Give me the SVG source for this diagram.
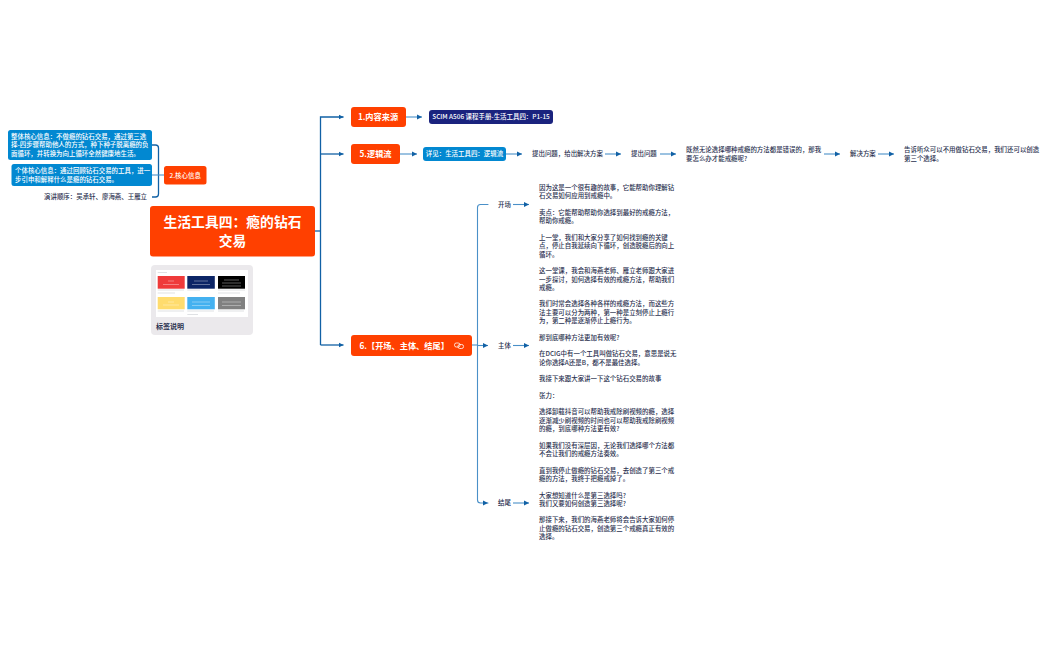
<svg xmlns="http://www.w3.org/2000/svg" width="1050" height="650" viewBox="0 0 1050 650">
<style>
text{font-family:"Noto Sans CJK SC",sans-serif}
.t{font-size:6.45px;fill:#2b3150;font-weight:500}
.w{font-size:6.45px;fill:#fff;font-weight:500}
.h{font-size:8.2px;fill:#fff;font-weight:700}
.m{text-anchor:middle}
.o{fill:#ff4000}
.b{fill:#0288d1}
.c1{fill:none;stroke:#1161a5;stroke-width:1.3}
.c2{fill:none;stroke:#4a90c8;stroke-width:1.1}
.i{fill:none;stroke:#c9ccd2;stroke-width:.6}
.l{fill:none;stroke:#fff;stroke-opacity:.6;stroke-width:.6}
</style>
<defs>
<marker id="a" markerUnits="userSpaceOnUse" markerWidth="6" markerHeight="6" refX="5" refY="3" orient="auto"><path d="M0 .5L5 3L0 5.500Z" fill="#1161a5"/></marker>
</defs>
<g id="connectors">
<path class="c1" d="M315 231H320.500"/>
<path class="c1" marker-end="url(#a)" d="M320.500 345V117H343.500"/>
<path class="c1" marker-end="url(#a)" d="M320.500 154H343.500"/>
<path class="c1" marker-end="url(#a)" d="M320.500 345H343.500"/>
<path class="c2" marker-end="url(#a)" d="M406 117H422"/>
<path class="c2" marker-end="url(#a)" d="M400 154H417"/>
<path class="c2" marker-end="url(#a)" d="M506 154H522"/>
<path class="c2" marker-end="url(#a)" d="M605 154H621"/>
<path class="c2" marker-end="url(#a)" d="M660 154H676"/>
<path class="c2" marker-end="url(#a)" d="M824 154H840"/>
<path class="c2" marker-end="url(#a)" d="M878 154H894"/>
<path class="c1" d="M152 145H155.500Q158.500 145 158.500 148V194Q158.500 197 155.500 197H152"/>
<path class="c2" d="M152 175H164"/>
<path class="c2" d="M472 345H477.500"/>
<path class="c2" stroke-linecap="round" marker-end="url(#a)" d="M488 204.500H480.500Q477.500 204.500 477.500 207.500V500Q477.500 503 480.500 503H488"/>
<path class="c2" marker-end="url(#a)" d="M477.500 345.500H488"/>
<path class="c2" marker-end="url(#a)" d="M513 204.500H529"/>
<path class="c2" marker-end="url(#a)" d="M513 345.500H529"/>
<path class="c2" marker-end="url(#a)" d="M513 503H529"/>
</g>
<g id="root">
<rect class="o" x="150" y="206" width="165" height="50.500" rx="3"/>
<text class="m" x="232.500" y="227" fill="#fff" font-size="13.800" font-weight="700">生活工具四：瘾的钻石</text>
<text class="m" x="232.500" y="245.500" fill="#fff" font-size="13.800" font-weight="700">交易</text>
</g>
<g id="legend">
<rect x="151" y="265" width="102" height="70" rx="4" fill="#ebe9ec"/>
<rect x="156" y="270" width="92" height="47" fill="#fff"/>
<rect x="157.700" y="276" width="27" height="12.700" fill="#ef3a3a"/>
<rect x="187.300" y="276" width="27.500" height="12.700" fill="#0c2566"/>
<rect x="218" y="276" width="27" height="12.700" fill="#000"/>
<rect x="157.700" y="297" width="27" height="12.300" fill="#ffdc6e"/>
<rect x="187.300" y="297" width="27.500" height="12.300" fill="#44b1f0"/>
<rect x="218" y="297" width="27" height="12.300" fill="#808080"/>
<path class="l" d="M168 281H174M163 284.500H179M194 281H208M192 284.500H210M224 280H239M222 283H241M222 286H241M168 302H174M163 305H179M192 302H210M192 305.500H210M222 302H241M222 305.500H241"/>
<path class="i" d="M157.700 272.500H167M157.700 290H184M157.700 293H175M187.300 290H200M218 290H245M218 293H240M157.700 311H184M187.300 311H214M187.300 314.500H198M218 311H244"/>
<text x="156" y="328.500" font-size="7" font-weight="700" fill="#2b3150">标签说明</text>
</g>
<g id="node-core">
<rect class="o" x="164" y="166" width="42.500" height="18.500" rx="2.500"/>
<text class="w" x="185.200" y="177.500" text-anchor="middle" font-weight="700">2.核心信息</text>
</g>
<g id="core-overall">
<rect class="b" x="8" y="130" width="144" height="30" rx="2.500"/>
<text class="w" x="11" y="138.800">整体核心信息：不做瘾的钻石交易，通过第三选</text>
<text class="w" x="11" y="147.200">择-四步骤帮助他人的方式，种下种子脱离瘾的负</text>
<text class="w" x="11" y="155.600">面循环，并转换为向上循环全然健康地生活。</text>
</g>
<g id="core-individual">
<rect class="b" x="11.500" y="164" width="140.500" height="22" rx="2.500"/>
<text class="w" x="15" y="173.200">个体核心信息：通过回顾钻石交易的工具，进一</text>
<text class="w" x="15" y="181.600">步引申和解释什么是瘾的钻石交易。</text>
</g>
<g id="core-order"><text class="t" x="44" y="199">演讲顺序：吴承轩、廖海燕、王雁立</text></g>
<g id="node-source">
<rect class="o" x="351" y="107" width="55" height="20" rx="3"/>
<text class="h m" x="378" y="120">1.内容来源</text>
</g>
<g id="source-detail">
<rect x="429" y="110" width="124" height="14" rx="3" fill="#1a237e"/>
<text class="w" x="491" y="119.300" text-anchor="middle">SCIM A506 课程手册-生活工具四：P1-15</text>
</g>
<g id="node-logic">
<rect class="o" x="351" y="144" width="49" height="20" rx="3"/>
<text class="h m" x="375.500" y="157">5.逻辑流</text>
</g>
<g id="logic-detail">
<rect class="b" x="423" y="147" width="83" height="14" rx="3"/>
<text class="w" x="464.500" y="156.300" text-anchor="middle">详见：生活工具四：逻辑流</text>
</g>
<g id="logic-1"><text class="t" x="532" y="156.300">提出问题，给出解决方案</text></g>
<g id="logic-2"><text class="t" x="631" y="156.300">提出问题</text></g>
<g id="logic-3">
<text class="t" x="686" y="152">既然无论选择哪种戒瘾的方法都是错误的，那我</text>
<text class="t" x="686" y="160.500">要怎么办才能戒瘾呢?</text>
</g>
<g id="logic-4"><text class="t" x="850" y="156.300">解决方案</text></g>
<g id="logic-5">
<text class="t" x="904" y="152">告诉听众可以不用做钻石交易，我们还可以创造</text>
<text class="t" x="904" y="160.500">第三个选择。</text>
</g>
<g id="node-structure">
<rect class="o" x="351" y="335" width="121" height="21" rx="3"/>
<text class="h" x="359.500" y="348.500">6.【开场、主体、结尾】</text>
<g fill="none" stroke="#fff" stroke-width=".8"><rect x="454.500" y="343" width="5.500" height="4" rx="1.800"/><rect x="458" y="344.500" width="5.500" height="4" rx="1.800"/></g>
</g>
<g id="section-open"><text class="t" x="498" y="207">开场</text></g>
<g id="section-body"><text class="t" x="498" y="347.800">主体</text></g>
<g id="section-end"><text class="t" x="498" y="505.300">结尾</text></g>
<g id="script">
<text class="t" x="539" y="190">因为这是一个很有趣的故事，它能帮助你理解钻</text>
<text class="t" x="539" y="198.300">石交易如何应用到戒瘾中。</text>
<text class="t" x="539" y="215">卖点：它能帮助帮助你选择到最好的戒瘾方法，</text>
<text class="t" x="539" y="223.300">帮助你戒瘾。</text>
<text class="t" x="539" y="240">上一堂，我们和大家分享了如何找到瘾的关键</text>
<text class="t" x="539" y="248.300">点，停止自我延续向下循环，创造脱瘾后的向上</text>
<text class="t" x="539" y="256.600">循环。</text>
<text class="t" x="539" y="273.200">这一堂课，我会和海燕老师、雁立老师跟大家进</text>
<text class="t" x="539" y="281.500">一步探讨，如何选择有效的戒瘾方法，帮助我们</text>
<text class="t" x="539" y="289.800">戒瘾。</text>
<text class="t" x="539" y="306.400">我们时常会选择各种各样的戒瘾方法，而这些方</text>
<text class="t" x="539" y="314.700">法主要可以分为两种，第一种是立刻停止上瘾行</text>
<text class="t" x="539" y="323">为，第二种是逐渐停止上瘾行为。</text>
<text class="t" x="539" y="339.600">那到底哪种方法更加有效呢?</text>
<text class="t" x="539" y="356.200">在DCIG中有一个工具叫做钻石交易，意思是说无</text>
<text class="t" x="539" y="364.500">论你选择A还是B，都不是最佳选择。</text>
<text class="t" x="539" y="381.200">我接下来跟大家讲一下这个钻石交易的故事</text>
<text class="t" x="539" y="397.800">张力：</text>
<text class="t" x="539" y="414.400">选择卸载抖音可以帮助我戒除刷视频的瘾，选择</text>
<text class="t" x="539" y="422.700">逐渐减少刷视频的时间也可以帮助我戒除刷视频</text>
<text class="t" x="539" y="431">的瘾，到底哪种方法更有效?</text>
<text class="t" x="539" y="447.700">如果我们没有深层因，无论我们选择哪个方法都</text>
<text class="t" x="539" y="456">不会让我们的戒瘾方法奏效。</text>
<text class="t" x="539" y="472.600">直到我停止做瘾的钻石交易，去创造了第三个戒</text>
<text class="t" x="539" y="480.900">瘾的方法，我终于把瘾戒掉了。</text>
<text class="t" x="539" y="497.500">大家想知道什么是第三选择吗?</text>
<text class="t" x="539" y="505.800">我们又要如何创造第三选择呢?</text>
<text class="t" x="539" y="522.400">那接下来，我们的海燕老师将会告诉大家如何停</text>
<text class="t" x="539" y="530.700">止做瘾的钻石交易，创造第三个戒瘾真正有效的</text>
<text class="t" x="539" y="539">选择。</text>
</g>
</svg>
